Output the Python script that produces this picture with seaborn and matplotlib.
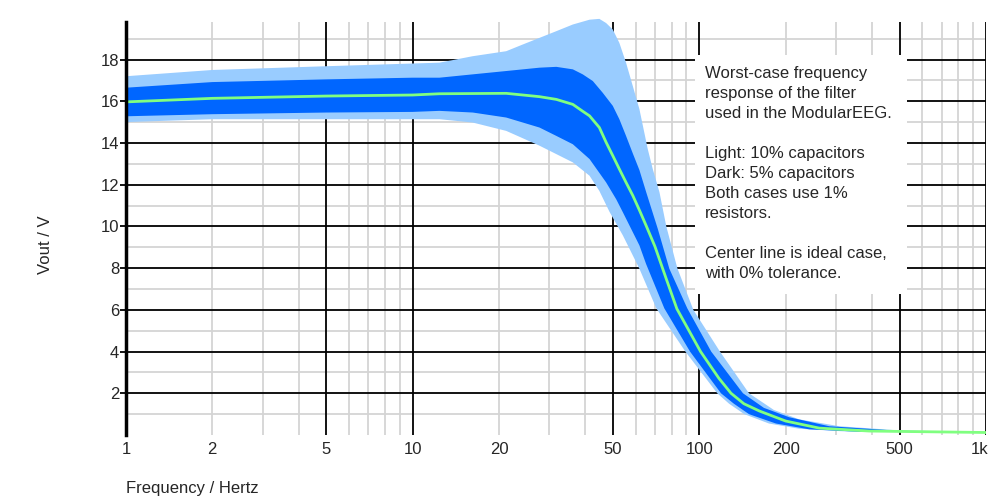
import numpy as np
import matplotlib
import matplotlib.pyplot as plt
import matplotlib.transforms as mtransforms
import seaborn as sns
from matplotlib.patches import Rectangle

matplotlib.use("Agg")

# ideal (0% tolerance) response
center_f = [1, 2, 5, 10, 12.4, 21.2, 27.7, 31.7, 36.2, 39.2, 41.4, 44.8, 47.3, 49.9, 52.6,
            55.5, 58.6, 61.8, 65.4, 70, 76.6, 83.5, 101, 117, 129, 143, 162, 200, 262, 391, 1000]
center_v = [15.97, 16.14, 16.25, 16.30, 16.36, 16.38, 16.22, 16.09, 15.85, 15.52, 15.30, 14.74,
            14.03, 13.39, 12.75, 12.11, 11.48, 10.78, 10.0, 9.04, 7.5, 6.05, 4.0, 2.72, 2.0, 1.5,
            1.15, 0.67, 0.33, 0.19, 0.12]

# light band: 10% capacitors
light_hi_f = [1, 2, 5, 10, 12.4, 16.2, 21.2, 24.2, 27.7, 31.7, 36.2, 41.4, 44.8, 47.3, 49.9, 52.6,
              55.5, 58.6, 61.8, 66.1, 68.8, 72.6, 76.7, 83.8, 95.3, 118, 149, 182, 223, 308, 498, 1000]
light_hi_v = [17.2, 17.5, 17.68, 17.81, 17.85, 18.16, 18.4, 18.72, 19.04, 19.36, 19.68, 19.91, 19.95,
              19.75, 19.44, 18.8, 17.85, 16.73, 15.62, 13.7, 12.75, 11.64, 10.0, 8.0, 6.0, 4.0, 2.0,
              1.2, 0.75, 0.42, 0.22, 0.14]
light_lo_f = [1, 2, 5, 10, 12.4, 16.2, 21.2, 27.7, 36.2, 41.4, 44.8, 48.6, 54.1, 58.6, 61.8, 70.8,
              89.4, 115.5, 127, 143.5, 175, 223, 333, 1000]
light_lo_v = [15.0, 15.14, 15.14, 15.14, 15.14, 14.98, 14.58, 13.87, 13.07, 12.43, 11.7, 10.7, 9.57,
              8.61, 7.97, 6.07, 4.0, 2.0, 1.5, 1.0, 0.55, 0.3, 0.16, 0.1]

# dark band: 5% capacitors
dark_hi_f = [1, 2, 5, 10, 12.4, 16.2, 21.2, 27.7, 31.7, 36.2, 39.2, 42.5, 46.0, 49.9, 52.6, 55.5,
             58.6, 61.8, 65.4, 71.6, 78.6, 90.8, 110, 142, 168, 206, 284, 498, 1000]
dark_hi_v = [16.65, 16.92, 17.05, 17.13, 17.13, 17.29, 17.45, 17.61, 17.65, 17.53, 17.29, 16.97,
             16.41, 15.78, 15.14, 14.34, 13.5, 12.7, 11.6, 9.89, 7.97, 6.07, 4.0, 2.0, 1.3, 0.85,
             0.42, 0.2, 0.13]
dark_lo_f = [1, 2, 5, 10, 12.4, 16.2, 21.2, 27.7, 31.7, 36.2, 41.4, 47.3, 51.3, 54.1, 61.8, 65.2,
             75.5, 92.8, 119, 132, 149, 185, 242, 361, 1000]
dark_lo_v = [15.28, 15.38, 15.46, 15.49, 15.54, 15.46, 15.22, 14.74, 14.34, 13.94, 13.23, 12.11,
             11.3, 10.68, 9.09, 8.2, 6.07, 4.0, 2.0, 1.5, 1.0, 0.55, 0.27, 0.16, 0.11]

x_ticks = [1, 2, 5, 10, 20, 50, 100, 200, 500, 1000]
x_ticklabels = ["1", "2", "5", "10", "20", "50", "100", "200", "500", "1k"]
y_ticks = [2, 4, 6, 8, 10, 12, 14, 16, 18]

note = ("Worst-case frequency\nresponse of the filter\nused in the ModularEEG.\n\n"
        "Light: 10% capacitors\nDark: 5% capacitors\nBoth cases use 1%\nresistors.\n\n"
        "Center line is ideal case,\nwith 0% tolerance.")

sns.set_style("white")
plt.rcParams['font.family'] = ['Liberation Sans', 'DejaVu Sans']

fig = plt.figure(figsize=(9.92, 5.0), dpi=100)
ax = fig.add_axes([126 / 992, 65 / 500, 860 / 992, 413 / 500])
ax.set_xscale('log')
ax.set_xlim(1, 1000)
ax.set_ylim(0, 19.8)

# grid: grey minor lines, black major lines
minor_x = [d * m for d in (1, 10, 100) for m in (2, 3, 4, 6, 7, 8, 9)]
for xv in minor_x:
    ax.axvline(xv, color='#d4d4d4', lw=1.3, zorder=0.5)
for yv in range(1, 20, 2):
    ax.axhline(yv, color='#d4d4d4', lw=1.3, zorder=0.5)
for xv in [5, 10, 50, 100, 500, 1000]:
    ax.axvline(xv, color='black', lw=1.3, zorder=0.6)
for yv in y_ticks:
    ax.axhline(yv, color='black', lw=1.3, zorder=0.6)

# tolerance bands
ax.fill(light_hi_f + light_lo_f[::-1], light_hi_v + light_lo_v[::-1],
        color='#99ccff', lw=0, zorder=2, clip_on=False)
ax.fill(dark_hi_f + dark_lo_f[::-1], dark_hi_v + dark_lo_v[::-1],
        color='#0066ff', lw=0, zorder=2.1)
sns.lineplot(x=center_f, y=center_v, ax=ax, color='#80ff80', lw=2, zorder=3)

ax.add_patch(Rectangle((695 / 992, 1 - 294 / 500), 212 / 992, 239 / 500,
                       transform=fig.transFigure, facecolor='white', edgecolor='none', zorder=4))
ax.text(705 / 992, 1 - 66 / 500, note, transform=fig.transFigure, ha='left', va='top',
        fontsize=12, linespacing=1.42, zorder=5)

ax.set_xticks(x_ticks)
ax.set_xticklabels(x_ticklabels)
ax.minorticks_off()
ax.set_yticks(y_ticks)
ax.tick_params(axis='x', length=0, pad=5, labelsize=12)
ax.tick_params(axis='y', length=4, width=1.3, color='black', pad=1, labelsize=12, left=True)

# keep "1k" inside the canvas
last = ax.get_xticklabels()[-1]
last.set_transform(last.get_transform() + mtransforms.ScaledTranslation(-6 / 100, 0, fig.dpi_scale_trans))

for s in ['top', 'right', 'bottom']:
    ax.spines[s].set_visible(False)
ax.spines['left'].set_linewidth(2.5)
ax.spines['left'].set_color('black')
ax.spines['left'].set_zorder(6)

fig.text(45 / 992, 1 - 245 / 500, "Vout / V", rotation=90, ha='center', va='center', fontsize=12)
fig.text(126 / 992, 1 - 489 / 500, "Frequency / Hertz", ha='left', va='center', fontsize=12)

fig.savefig("out.png", dpi=100)
